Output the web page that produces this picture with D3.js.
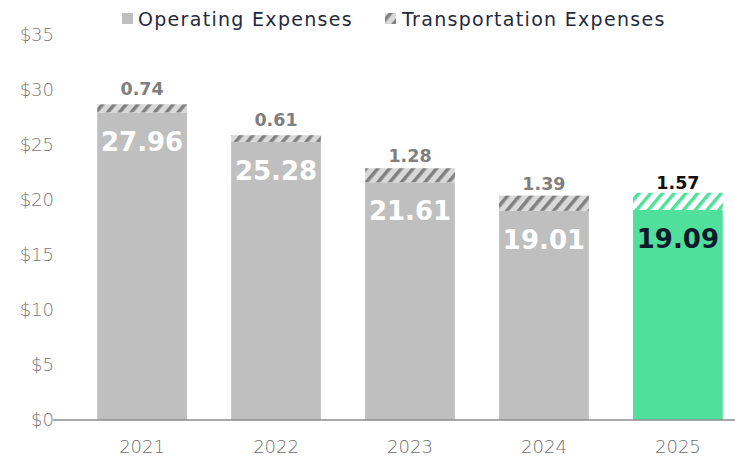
<!DOCTYPE html>
<html>
<head>
<meta charset="utf-8">
<script src="https://cdn.jsdelivr.net/npm/d3@7"></script>
<style>
  body { margin: 0; background: #fff; }
  svg { display: block; font-family: "DejaVu Sans", sans-serif; }
</style>
</head>
<body>
<div id="chart"></div>
<script>
// data
const years = ["2021", "2022", "2023", "2024", "2025"];
const operating = [27.96, 25.28, 21.61, 19.01, 19.09];
const transport = [0.74, 0.61, 1.28, 1.39, 1.57];
const yTicks = [0, 5, 10, 15, 20, 25, 30, 35];

const width = 735, height = 457;
const svg = d3.select("#chart").append("svg").attr("width", width).attr("height", height);

const x = d3.scaleBand().domain(years).range([53, 767]).paddingInner(0.33).paddingOuter(0.33);
const y = d3.scaleLinear().domain([0, 35]).range([420, 35]);

// hatch patterns
const defs = svg.append("defs");
function hatch(id, bg, fg) {
    const p = defs.append("pattern").attr("id", id)
        .attr("patternUnits", "userSpaceOnUse")
        .attr("width", 9).attr("height", 9)
        .attr("patternTransform", "rotate(40)");
    p.append("rect").attr("width", 9).attr("height", 9).attr("fill", bg);
    p.append("rect").attr("width", 3.5).attr("height", 9).attr("fill", fg);
}
hatch("hatchGray", "#d9d9d9", "#808080");
hatch("hatchGreen", "#ffffff", "#50e09c");

const isLast = i => i === years.length - 1;

// y axis labels
svg.append("g").selectAll("text")
    .data(yTicks)
    .enter()
    .append("text")
    .attr("x", 54)
    .attr("y", d => y(d))
    .attr("dy", "0.35em")
    .attr("text-anchor", "end")
    .attr("font-size", 18)
    .attr("font-weight", 200)
    .attr("fill", "#767676")
    .text(d => "$" + d);

// bars
const g = svg.append("g");
g.selectAll("rect.op")
    .data(years)
    .enter()
    .append("rect")
    .attr("class", "op")
    .attr("x", d => x(d))
    .attr("width", x.bandwidth())
    .attr("y", (d, i) => y(operating[i]))
    .attr("height", (d, i) => y(0) - y(operating[i]))
    .attr("fill", (d, i) => isLast(i) ? "#50e09c" : "#bfbfbf");

g.selectAll("rect.tr")
    .data(years)
    .enter()
    .append("rect")
    .attr("class", "tr")
    .attr("x", d => x(d))
    .attr("width", x.bandwidth())
    .attr("y", (d, i) => y(operating[i] + transport[i]))
    .attr("height", (d, i) => y(operating[i]) - y(operating[i] + transport[i]))
    .attr("fill", (d, i) => isLast(i) ? "url(#hatchGreen)" : "url(#hatchGray)");

// value labels
g.selectAll("text.opl")
    .data(years)
    .enter()
    .append("text")
    .attr("x", d => x(d) + x.bandwidth() / 2)
    .attr("y", (d, i) => y(operating[i]) + 29)
    .attr("dy", "0.35em")
    .attr("text-anchor", "middle")
    .attr("font-size", 26)
    .attr("font-weight", 700)
    .attr("fill", (d, i) => isLast(i) ? "#0f1b2d" : "#ffffff")
    .text((d, i) => operating[i].toFixed(2));

g.selectAll("text.trl")
    .data(years)
    .enter()
    .append("text")
    .attr("x", d => x(d) + x.bandwidth() / 2)
    .attr("y", (d, i) => y(operating[i] + transport[i] / 2) - 19)
    .attr("dy", "0.35em")
    .attr("text-anchor", "middle")
    .attr("font-size", 17.5)
    .attr("font-weight", 700)
    .attr("fill", (d, i) => isLast(i) ? "#111111" : "#7f7f7f")
    .text((d, i) => transport[i].toFixed(2));

// x axis line and labels
svg.append("line")
    .attr("x1", 53).attr("x2", width)
    .attr("y1", y(0)).attr("y2", y(0))
    .attr("stroke", "#8c8c8c").attr("stroke-width", 1.5);

svg.append("g").selectAll("text")
    .data(years)
    .enter()
    .append("text")
    .attr("x", d => x(d) + x.bandwidth() / 2)
    .attr("y", 447)
    .attr("dy", "0.35em")
    .attr("text-anchor", "middle")
    .attr("font-size", 18)
    .attr("font-weight", 200)
    .attr("fill", "#6e6e6e")
    .text(d => d);

// legend
const legend = svg.append("g");
legend.append("rect").attr("x", 122).attr("y", 13).attr("width", 11).attr("height", 11).attr("fill", "#bfbfbf");
legend.append("text").attr("x", 138).attr("y", 19).attr("dy", "0.35em")
    .attr("font-size", 19).attr("letter-spacing", 1.3).attr("fill", "#1f2a3c").text("Operating Expenses");
legend.append("rect").attr("x", 385).attr("y", 13).attr("width", 11).attr("height", 11).attr("fill", "url(#hatchGray)");
legend.append("text").attr("x", 402).attr("y", 19).attr("dy", "0.35em")
    .attr("font-size", 19).attr("letter-spacing", 1.3).attr("fill", "#1f2a3c").text("Transportation Expenses");
</script>
</body>
</html>
